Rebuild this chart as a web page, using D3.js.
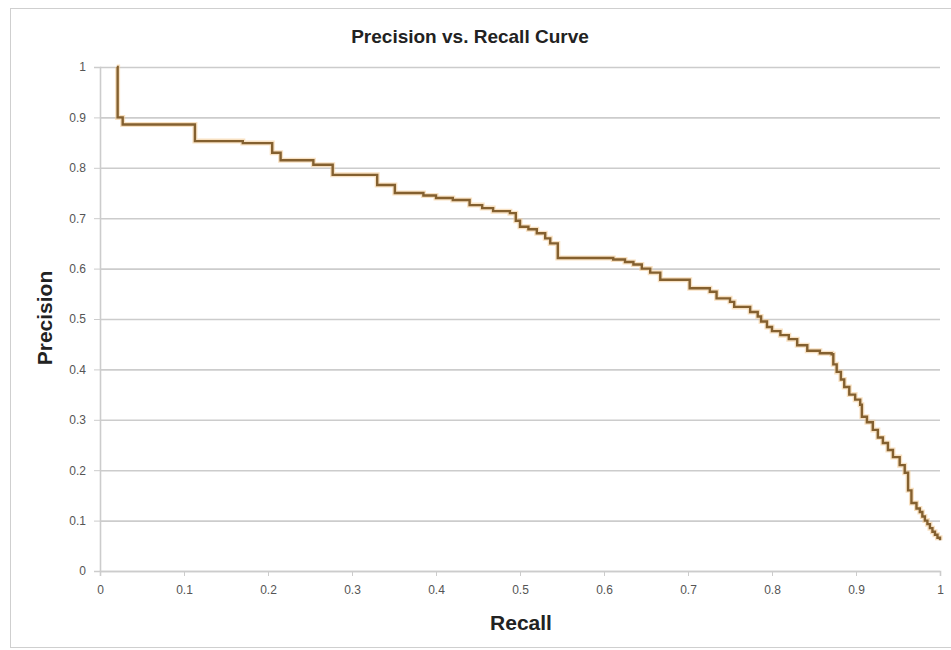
<!DOCTYPE html>
<html>
<head>
<meta charset="utf-8">
<script src="https://cdnjs.cloudflare.com/ajax/libs/d3/7.8.5/d3.min.js"></script>
<style>
  body { margin: 0; background: #fff; }
  svg { display: block; font-family: "Liberation Sans", Arial, sans-serif; }
</style>
</head>
<body>
<svg id="chart"></svg>
<script>
const recall = [0.02, 0.021, 0.027, 0.113, 0.17, 0.205, 0.215, 0.254, 0.277, 0.33, 0.351,
  0.385, 0.40, 0.42, 0.44, 0.455, 0.468, 0.488, 0.495, 0.50, 0.51, 0.52, 0.53, 0.536,
  0.545, 0.611, 0.625, 0.635, 0.645, 0.655, 0.667, 0.702, 0.726, 0.734, 0.75, 0.755,
  0.774, 0.783, 0.787, 0.794, 0.80, 0.81, 0.82, 0.83, 0.842, 0.857, 0.871, 0.873,
  0.877, 0.882, 0.886, 0.892, 0.899, 0.905, 0.907, 0.913, 0.92, 0.926, 0.932, 0.938,
  0.944, 0.952, 0.958, 0.962, 0.966, 0.972, 0.976, 0.979, 0.982, 0.985, 0.988, 0.991,
  0.994, 0.997, 1.0];
const precision = [1.0, 0.9, 0.886, 0.853, 0.849, 0.83, 0.815, 0.806, 0.786, 0.766, 0.75,
  0.745, 0.74, 0.736, 0.726, 0.72, 0.714, 0.71, 0.695, 0.683, 0.678, 0.67, 0.66, 0.65,
  0.621, 0.618, 0.613, 0.608, 0.6, 0.592, 0.578, 0.561, 0.554, 0.541, 0.534, 0.524,
  0.514, 0.505, 0.495, 0.484, 0.476, 0.468, 0.46, 0.448, 0.437, 0.432, 0.43, 0.41,
  0.395, 0.38, 0.365, 0.35, 0.34, 0.33, 0.306, 0.295, 0.28, 0.265, 0.254, 0.24,
  0.226, 0.21, 0.195, 0.16, 0.135, 0.124, 0.117, 0.108, 0.1, 0.093, 0.085, 0.078,
  0.072, 0.066, 0.061];
const xTicks = [0, 0.1, 0.2, 0.3, 0.4, 0.5, 0.6, 0.7, 0.8, 0.9, 1];
const yTicks = [0, 0.1, 0.2, 0.3, 0.4, 0.5, 0.6, 0.7, 0.8, 0.9, 1];

const W = 951, H = 650;
const margin = {top: 67, right: 11, bottom: 79, left: 100};

const svg = d3.select('#chart').attr('width', W).attr('height', H);

// outer frame
svg.append('rect')
  .attr('x', 10.5).attr('y', 8.5)
  .attr('width', W + 5).attr('height', H - 11)
  .attr('fill', '#fff').attr('stroke', '#cfcfcf');

const x = d3.scaleLinear().domain([0, 1]).range([margin.left, W - margin.right]);
const y = d3.scaleLinear().domain([0, 1]).range([H - margin.bottom, margin.top]);

// horizontal gridlines
svg.append('g')
  .attr('transform', `translate(${margin.left},0)`)
  .call(d3.axisLeft(y).tickValues(yTicks).tickSize(-(x(1) - x(0))).tickFormat(''))
  .call(g => g.select('.domain').remove())
  .call(g => g.selectAll('.tick line').attr('stroke', '#cccccc').attr('stroke-width', 1.6));

// y tick marks and labels
svg.append('g')
  .attr('transform', `translate(${margin.left},0)`)
  .call(d3.axisLeft(y).tickValues(yTicks).tickSize(6).tickPadding(8).tickFormat(d3.format('~g')))
  .call(g => g.select('.domain').attr('stroke', '#cccccc').attr('stroke-width', 1.6))
  .call(g => g.selectAll('.tick line').attr('stroke', '#cccccc'))
  .call(g => g.selectAll('.tick text').attr('fill', '#555').attr('font-size', 12));

// x axis
svg.append('g')
  .attr('transform', `translate(0,${y(0)})`)
  .call(d3.axisBottom(x).tickValues(xTicks).tickSize(5).tickPadding(9).tickFormat(d3.format('~g')))
  .call(g => g.select('.domain').attr('stroke', '#cccccc').attr('stroke-width', 1.6))
  .call(g => g.selectAll('.tick line').attr('stroke', '#cccccc'))
  .call(g => g.selectAll('.tick text').attr('fill', '#555').attr('font-size', 12));

const pts = recall.map((r, i) => [r, precision[i]]);
const line = d3.line()
  .x(d => x(d[0]))
  .y(d => y(d[1]))
  .curve(d3.curveStepAfter);

svg.append('path')
  .datum(pts)
  .attr('fill', 'none')
  .attr('stroke', '#f3c98f')
  .attr('stroke-opacity', 0.55)
  .attr('stroke-width', 5)
  .attr('d', line);

svg.append('path')
  .datum(pts)
  .attr('fill', 'none')
  .attr('stroke', '#84602f')
  .attr('stroke-width', 2.4)
  .attr('d', line);

// titles
svg.append('text')
  .attr('x', 470).attr('y', 43)
  .attr('text-anchor', 'middle')
  .attr('font-size', 19).attr('font-weight', 'bold').attr('fill', '#222')
  .text('Precision vs. Recall Curve');

svg.append('text')
  .attr('x', 521).attr('y', 630)
  .attr('text-anchor', 'middle')
  .attr('font-size', 21).attr('font-weight', 'bold').attr('fill', '#222')
  .text('Recall');

svg.append('text')
  .attr('transform', 'translate(52,318) rotate(-90)')
  .attr('text-anchor', 'middle')
  .attr('font-size', 21).attr('font-weight', 'bold').attr('fill', '#222')
  .text('Precision');
</script>
</body>
</html>
